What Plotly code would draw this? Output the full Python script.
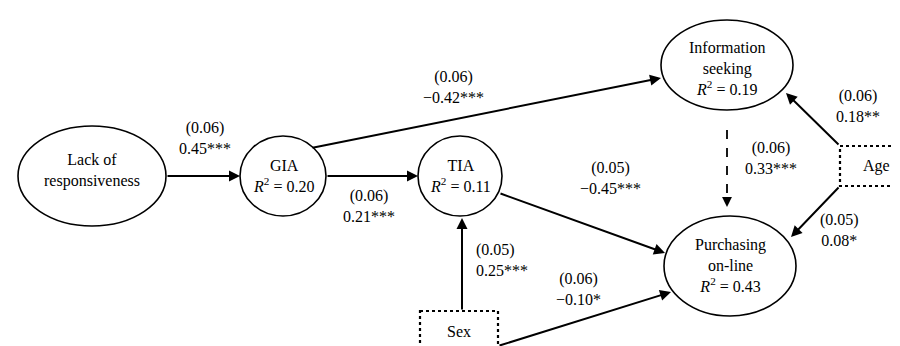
import plotly.graph_objects as go

# ---- data ----
node_names = ["Lack of<br>responsiveness", "GIA", "TIA", "Information<br>seeking", "Purchasing<br>on-line"]
node_r2 = [None, 0.20, 0.11, 0.19, 0.43]
box_names = ["Sex", "Age"]

path_from = ["Lack", "GIA", "GIA", "TIA", "Sex", "Sex", "Info", "Age", "Age"]
path_to = ["GIA", "TIA", "Info", "Purch", "TIA", "Purch", "Purch", "Info", "Purch"]
path_coef = ["0.45", "0.21", "\u22120.42", "\u22120.45", "0.25", "\u22120.10", "0.33", "0.18", "0.08"]
path_se = ["0.06", "0.06", "0.06", "0.05", "0.05", "0.06", "0.06", "0.06", "0.05"]
path_sig = ["***", "***", "***", "***", "***", "*", "***", "**", "*"]
path_dashed = [False, False, False, False, False, False, True, False, False]

# ---- layout (positions in pixel space) ----
node_geom = [  # cx, cy, rx, ry, text_y
    (84, 168, 74, 50, 162),
    (275, 168, 43, 40, 168),
    (452, 168, 42, 40, 168),
    (719, 57, 66, 45, 60),
    (722, 258, 66, 50, 257),
]
box_geom = [  # x0, y0, x1, y1, text_x
    (412, 303, 490, 343, 451),
    (832, 138, 906, 178, 868),
]
path_geom = [  # start x,y ; end x,y ; label x,y ; align
    ((158, 168), (232, 168), (197, 130), "center"),
    ((318, 168), (410, 168), (361, 198), "center"),
    ((303, 140), (653, 70), (445, 79), "center"),
    ((491, 185), (657, 245), (602, 170), "center"),
    ((454, 303), (454, 210), (466, 252), "left"),
    ((490, 338), (663, 284), (570, 281), "center"),
    ((719, 122), (719, 199), (763, 150), "center"),
    ((832, 138), (778, 85), (850, 98), "center"),
    ((832, 178), (783, 229), (831, 222), "center"),
]

FONT = "Liberation Serif"
FS = 16
fig = go.Figure()
shapes = []
ann = []

for name, r2, (cx, cy, rx, ry, ty) in zip(node_names, node_r2, node_geom):
    shapes.append(dict(type="circle", xref="x", yref="y", x0=cx - rx, x1=cx + rx,
                       y0=cy - ry, y1=cy + ry, line=dict(color="black", width=1.6),
                       fillcolor="white", layer="above"))
    txt = name if r2 is None else f"{name}<br><i>R</i><sup>2</sup> = {r2:.2f}"
    ann.append(dict(x=cx, y=ty, text=txt, showarrow=False, xref="x", yref="y",
                    font=dict(family=FONT, size=FS, color="black"), align="center"))

for name, (x0, y0, x1, y1, tx) in zip(box_names, box_geom):
    shapes.append(dict(type="rect", xref="x", yref="y", x0=x0, x1=x1, y0=y0, y1=y1,
                       line=dict(color="black", width=2.2, dash="dot"), fillcolor="white"))
    ann.append(dict(x=tx, y=(y0 + y1) / 2, text=name, showarrow=False, xref="x", yref="y",
                    font=dict(family=FONT, size=FS, color="black")))

for coef, se, sig, dashed, (s, e, lab, al) in zip(path_coef, path_se, path_sig, path_dashed, path_geom):
    if dashed:
        shapes.append(dict(type="line", xref="x", yref="y", x0=s[0], y0=s[1], x1=e[0], y1=e[1] - 8,
                           line=dict(color="black", width=1.8, dash="dash")))
        ann.append(dict(x=e[0], y=e[1], ax=e[0], ay=e[1] - 10, xref="x", yref="y",
                        axref="x", ayref="y", text="", showarrow=True, arrowhead=2,
                        arrowsize=1.1, arrowwidth=1.8, arrowcolor="black"))
    else:
        ann.append(dict(x=e[0], y=e[1], ax=s[0], ay=s[1], xref="x", yref="y",
                        axref="x", ayref="y", text="", showarrow=True, arrowhead=2,
                        arrowsize=1.1, arrowwidth=2, arrowcolor="black", standoff=0))
    ann.append(dict(x=lab[0], y=lab[1], text=f"({se})<br>{coef}{sig}", showarrow=False,
                    xref="x", yref="y", xanchor="left" if al == "left" else "center",
                    align=al, font=dict(family=FONT, size=FS, color="black")))

fig.update_layout(
    width=900, height=346, margin=dict(l=0, r=0, t=0, b=0),
    paper_bgcolor="white", plot_bgcolor="white",
    xaxis=dict(range=[0, 900], visible=False, fixedrange=True),
    yaxis=dict(range=[346, 0], visible=False, fixedrange=True),
    shapes=shapes, annotations=ann, showlegend=False,
)
fig.write_html("out.html")
